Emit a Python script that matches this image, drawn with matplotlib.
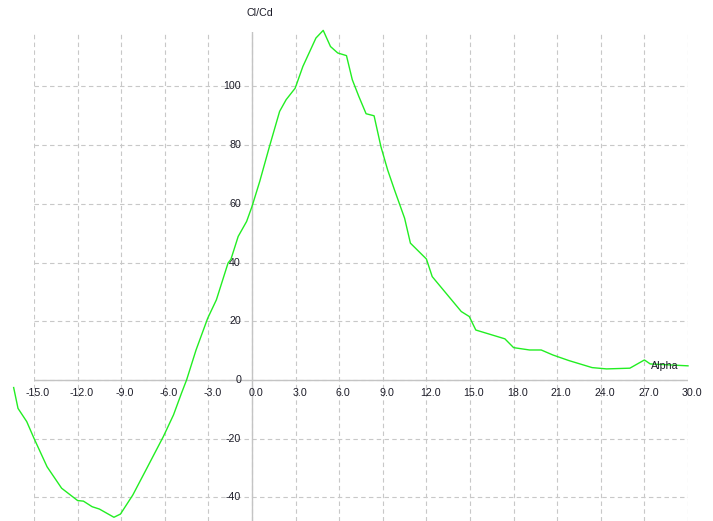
import numpy as np
import matplotlib.pyplot as plt

# Cl/Cd polar against angle of attack
alpha = [-16.4, -16.1, -15.5, -15.0, -14.1, -13.1, -12.0, -11.6, -11.0, -10.5,
         -9.5, -9.05, -8.2, -7.3, -6.1, -5.4, -4.85, -4.5, -3.85, -3.05,
         -2.45, -1.65, -1.45, -0.95, -0.37, 0.0, 0.53, 1.2, 1.9, 2.35,
         2.97, 3.5, 4.4, 4.9, 5.4, 5.9, 6.5, 6.9, 7.35, 7.85,
         8.4, 8.87, 9.33, 9.8, 10.5, 10.9, 12.0, 12.4, 14.4, 14.95,
         15.4, 17.4, 18.0, 19.1, 19.9, 20.7, 21.8, 23.4, 24.4, 26.0,
         27.0, 27.4, 30.0]
cl_cd = [-2.6, -9.7, -14.2, -19.9, -29.6, -36.9, -41.1, -41.3, -43.2, -44.0,
         -46.8, -45.7, -39.2, -30.7, -19.3, -11.9, -4.5, 0.0, 10.2, 21.0,
         27.3, 39.8, 41.1, 48.9, 54.0, 59.1, 67.6, 79.5, 91.5, 95.5,
         99.4, 106.8, 116.5, 119.1, 113.6, 111.4, 110.5, 102.3, 96.6, 90.7,
         90.0, 79.5, 71.6, 64.8, 55.1, 46.6, 41.2, 35.2, 23.3, 21.6,
         17.0, 14.0, 11.0, 10.2, 10.2, 8.5, 6.6, 4.2, 3.75, 4.0,
         6.8, 5.45, 4.8]

x_ticks = np.arange(-15, 31, 3)
y_ticks = np.arange(-40, 101, 20)

W, H = 713, 521
fig = plt.figure(figsize=(W / 100, H / 100), dpi=100)
ax = fig.add_axes([34 / W, 0, (688 - 34) / W, (521 - 31.7) / H])
ax.set_xlim(-15, 30)
ax.set_ylim(-48.07, 118.65)

for s in ax.spines.values():
    s.set_visible(False)
ax.set_xticks(x_ticks)
ax.set_yticks(y_ticks)
ax.tick_params(length=0, labelbottom=False, labelleft=False)
ax.grid(True, color='#c8c8c8', lw=0.8, linestyle=(0, (4, 3)))
ax.set_axisbelow(True)

# axes crossing at the origin
ax.axhline(0, color='#c4c4c4', lw=1, zorder=1)
ax.axvline(0, color='#c4c4c4', lw=1, zorder=1)

font = dict(family='Liberation Sans', size=7.7, color='#1c1c28')
for x in x_ticks:
    ax.annotate(f'{x:.1f}', (x, 0), xytext=(4, -13), textcoords='offset pixels',
                ha='center', va='center', **font)
for y in y_ticks:
    ax.annotate(f'{y:d}', (0, y), xytext=(-11, 0), textcoords='offset pixels',
                ha='right', va='center', **font)

ax.plot(alpha, cl_cd, color='#22ee22', lw=1.0, clip_on=False, zorder=3)

fig.text(260 / W, 1 - 12.7 / H, 'Cl/Cd', ha='center', va='center', **font)
ax.annotate('Alpha', (30, 0), xytext=(665 - 688, 14), textcoords='offset pixels',
            ha='center', va='center', **font)

fig.savefig('out.png', dpi=100)
